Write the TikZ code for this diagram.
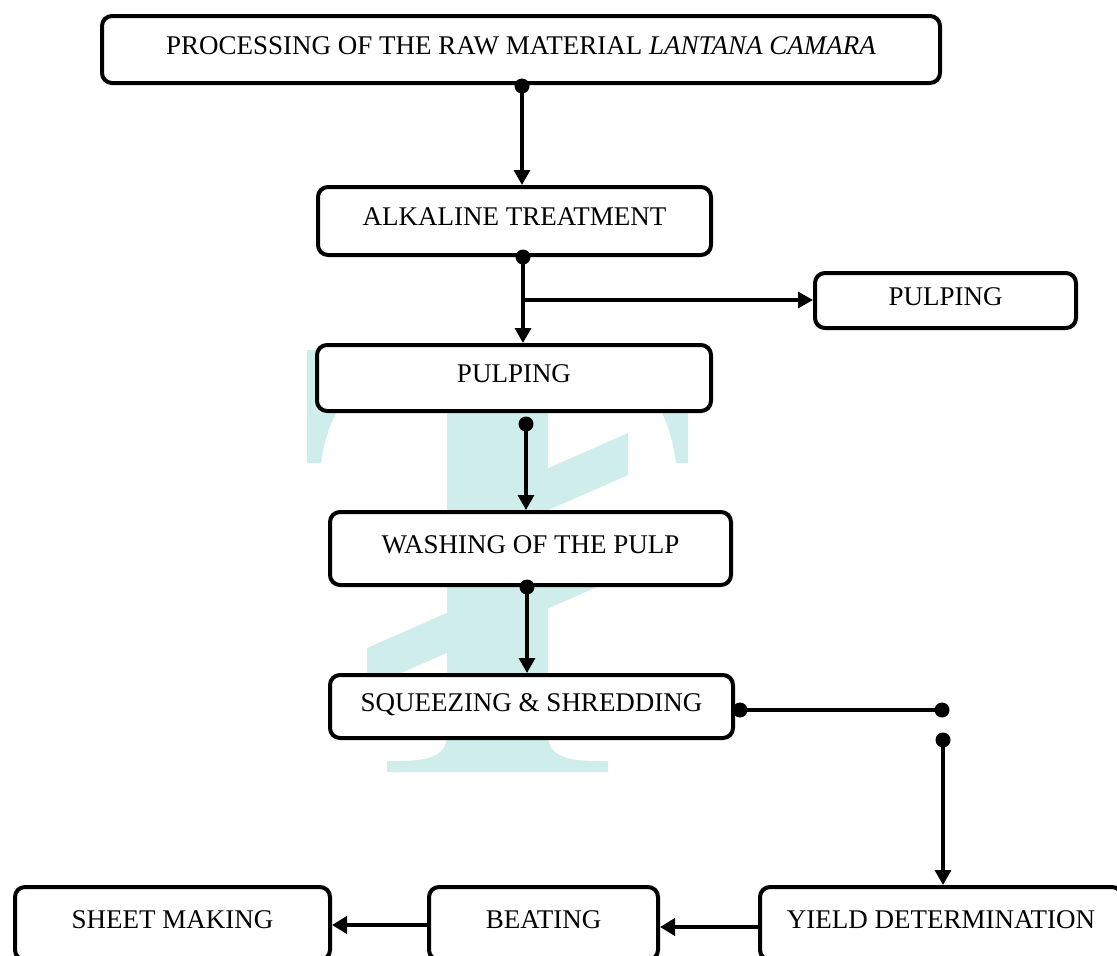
\documentclass[tikz,border=0pt]{standalone}
\usepackage{fontspec}
\setmainfont{Liberation Serif}
\usetikzlibrary{arrows.meta}
\definecolor{wm}{HTML}{CFEEEB}
\begin{document}
\begin{tikzpicture}[x=1pt,y=-1pt,
  box/.style={draw, line width=4pt, rounded corners=10pt, fill=white,
    text depth=8pt, inner sep=0pt, font=\fontsize{27}{30}\selectfont},
  conn/.style={line width=3.3pt, -{Triangle[length=15pt,width=16pt]}},
  thickconn/.style={line width=4pt, -{Triangle[length=15pt,width=17pt]}},
  plainline/.style={line width=3.3pt},
  dotmark/.style={fill=black}]
\useasboundingbox (0,0) rectangle (1117,956);
\fill[white] (0,0) rectangle (1117,956);
\clip (0,0) rectangle (1117,956);
% watermark
\fill[wm] (307,350) -- (688,350) -- (688,463) -- (676,463)
  .. controls (672,435) and (665,412) .. (650,395) -- (350,395)
  .. controls (333,412) and (325,435) .. (321,463) -- (307,463) -- cycle;
\fill[wm] (447,350) -- (548,350) -- (548,735)
  .. controls (548,755) and (565,761) .. (598,761) -- (608,761) -- (608,772)
  -- (387,772) -- (387,761) -- (400,761)
  .. controls (430,761) and (447,755) .. (447,735) -- cycle;
\fill[wm] (544,470) -- (628,433) -- (628,475) -- (544,512) -- cycle;
\fill[wm] (367,648) -- (597,547) -- (597,587) -- (367,688) -- cycle;
% boxes
\node[box, minimum width=838pt, minimum height=67pt] (top) at (521,49.5)
  {PROCESSING OF THE RAW MATERIAL \textit{LANTANA CAMARA}};
\node[box, minimum width=393pt, minimum height=68pt] (alk) at (514.5,221) {ALKALINE TREATMENT};
\node[box, minimum width=261pt, minimum height=55pt] (pulp2) at (945.5,300.5) {PULPING};
\node[box, minimum width=394pt, minimum height=66pt] (pulp) at (514,378) {PULPING};
\node[box, minimum width=401pt, minimum height=73pt] (wash) at (530.5,548.5) {WASHING OF THE PULP};
\node[box, minimum width=403pt, minimum height=63pt] (sq) at (531.5,706.5) {SQUEEZING \& SHREDDING};
\node[box, minimum width=362pt, minimum height=73pt] (yield) at (941,923.5) {YIELD DETERMINATION};
\node[box, minimum width=229pt, minimum height=73pt] (beat) at (543.5,923.5) {BEATING};
\node[box, minimum width=315pt, minimum height=73pt] (sheet) at (172.5,923.5) {SHEET MAKING};
% connector points
\coordinate (d1) at (522,86);
\coordinate (d2) at (523,257);
\coordinate (br) at (523,300);
\coordinate (d3) at (526,424);
\coordinate (d4) at (527,587);
\coordinate (d5) at (740,710);
\coordinate (d6) at (942,710);
\coordinate (d7) at (943,740);
% connectors
\draw[conn] (d1) -- (d1 |- alk.north);
\draw[conn] (d2) -- (d2 |- pulp.north);
\draw[conn] (br) -- (br -| pulp2.west);
\draw[conn] (d3) -- (d3 |- wash.north);
\draw[conn] (d4) -- (d4 |- sq.north);
\draw[plainline] (d5) -- (d6);
\draw[conn] (d7) -- (d7 |- yield.north);
\draw[thickconn] ([yshift=-3.5pt]yield.west) -- ([yshift=-3.5pt]beat.east);
\draw[thickconn] ([yshift=-1.5pt]beat.west) -- ([yshift=-1.5pt]sheet.east);
% dots
\foreach \p in {d1,d2,d3,d4,d5,d6,d7} \fill[dotmark] (\p) circle[radius=7.5pt];
\end{tikzpicture}
\end{document}
